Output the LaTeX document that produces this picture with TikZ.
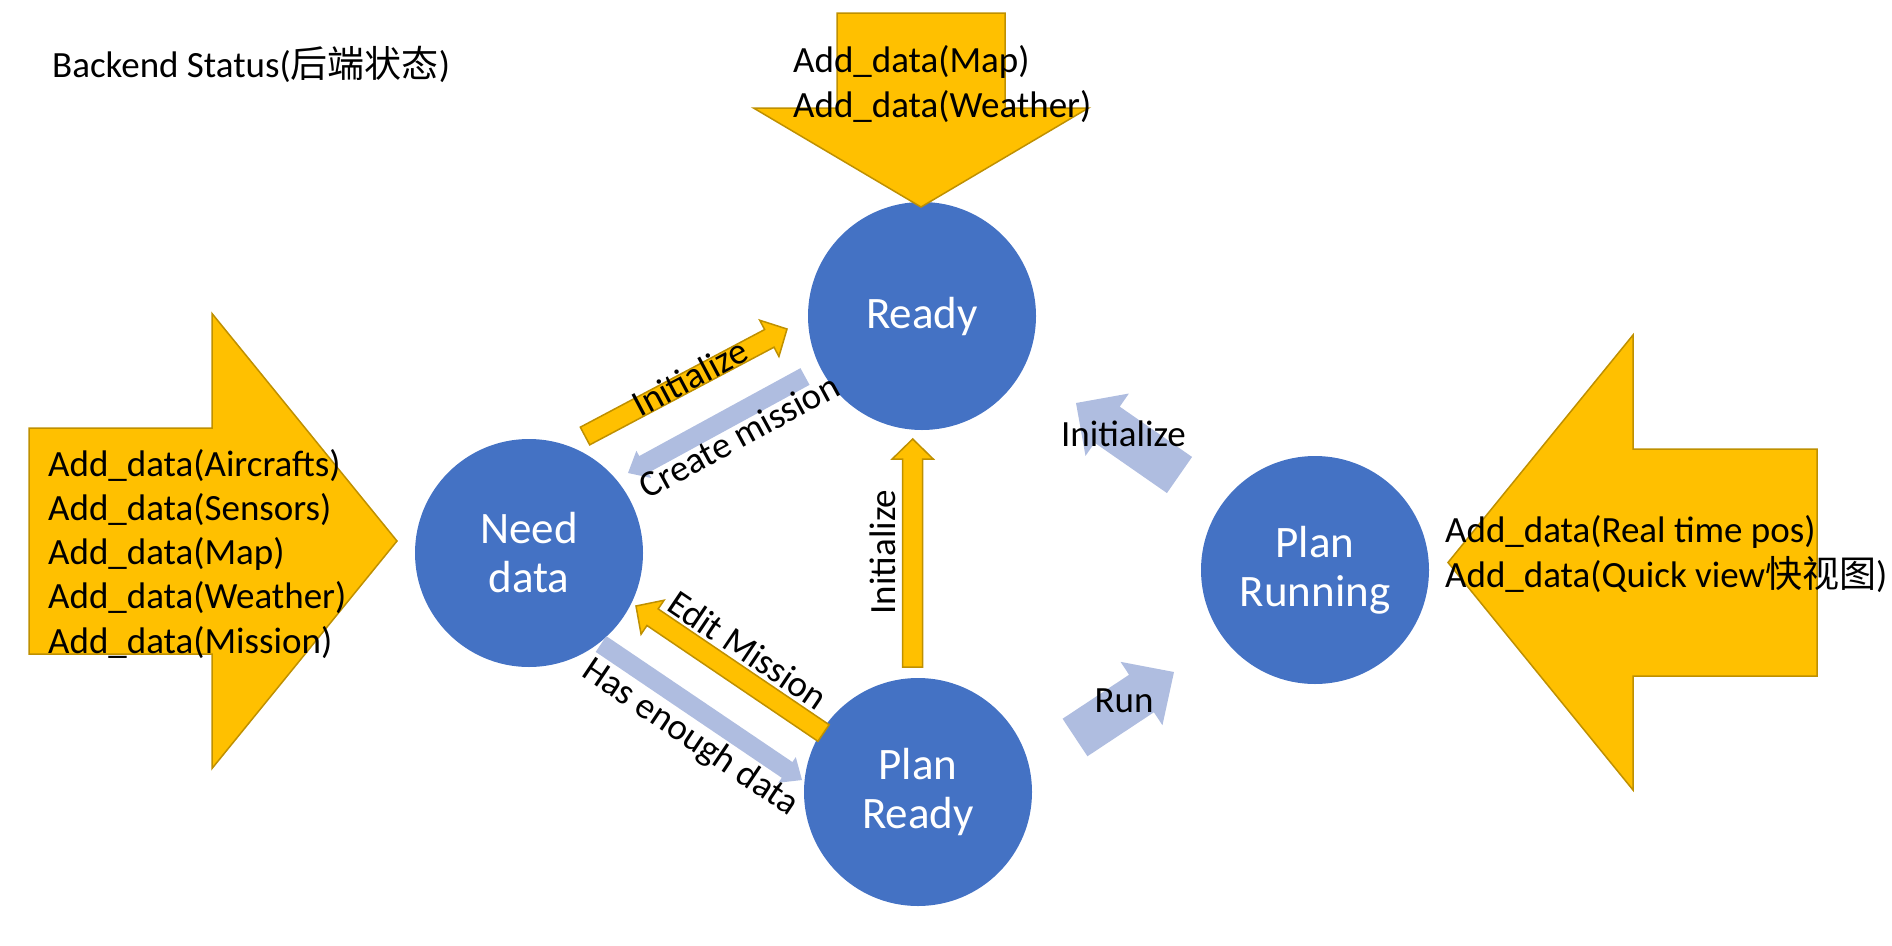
\documentclass[tikz,border=0pt]{standalone}
\usepackage{fontspec}
\setmainfont{Carlito}
\newfontfamily\cjk{Noto Sans CJK SC}
\usetikzlibrary{calc}
\definecolor{stateBlue}{HTML}{4472C4}
\definecolor{dataYellow}{HTML}{FFC000}
\definecolor{dataGold}{HTML}{BF9000}
\definecolor{moveBlue}{HTML}{AFBDE0}

% block arrow: style, tail, tip, shaft width, head width, head length
\newcommand{\blockarrow}[6]{%
  \coordinate (#2-b) at ($(#3)!#6!(#2)$);
  \path[#1] ($(#2)!#4/2!90:(#3)$) -- ($(#2-b)!#4/2!90:(#3)$)
    -- ($(#2-b)!#5/2!90:(#3)$) -- (#3) -- ($(#2-b)!#5/2!-90:(#3)$)
    -- ($(#2-b)!#4/2!-90:(#3)$) -- ($(#2)!#4/2!-90:(#3)$) -- cycle;
}

\begin{document}
\begin{tikzpicture}[
  x=1pt, y=1pt,
  state/.style={circle, fill=stateBlue, minimum size=228pt, inner sep=0pt,
    text=white, align=center, font=\fontsize{45}{49}\selectfont},
  feed/.style={fill=dataYellow, draw=dataGold, line width=1.5pt},
  move/.style={fill=moveBlue},
  lbl/.style={inner sep=0pt, font=\fontsize{37}{44}\selectfont},
]
  \useasboundingbox (0,0) rectangle (1892,-945);

  % Title
  \node[lbl, anchor=base west] (title)
    at (52,-77) {Backend Status({\cjk 后端状态})};

  % States
  \node[state] (need) at (529,-553) {Need\\data};
  \node[state] (ready) at (922,-316) {Ready};
  \node[state] (planready) at (918,-792) {Plan\\Ready};
  \node[state] (running) at (1315,-570) {Plan\\Running};

  % Transition ends
  \coordinate (ni-s) at (585,-436);    \coordinate (ni-e) at (787,-329);
  \coordinate (cm-s) at (805,-376.5);  \coordinate (cm-e) at (628,-473);
  \coordinate (em-s) at (823.5,-733);  \coordinate (em-e) at (636,-606);
  \coordinate (he-s) at (601,-644);    \coordinate (he-e) at (802,-780);
  \coordinate (pi-s) at (912.7,-667);  \coordinate (pi-e) at (912.7,-439);
  \coordinate (ri-s) at (1179.5,-475); \coordinate (ri-e) at (1076,-403);
  \coordinate (run-s) at (1075,-737.5); \coordinate (run-e) at (1174,-672);

  % Transitions
  \blockarrow{feed}{ni-s}{ni-e}{20pt}{41pt}{20pt}
  \blockarrow{move}{cm-s}{cm-e}{19pt}{31pt}{18pt}
  \blockarrow{feed}{em-s}{em-e}{20pt}{41pt}{20pt}
  \blockarrow{move}{he-s}{he-e}{19pt}{31pt}{18pt}
  \blockarrow{feed}{pi-s}{pi-e}{20pt}{41pt}{20pt}
  \blockarrow{move}{ri-s}{ri-e}{44pt}{76pt}{38pt}
  \blockarrow{move}{run-s}{run-e}{45pt}{76pt}{39pt}

  % Data feeds
  \coordinate (feedL-s) at (29,-541);    \coordinate (feedL-e) at (397,-541);
  \coordinate (feedT-s) at (921,-13);    \coordinate (feedT-e) at (921,-207);
  \coordinate (feedR-s) at (1817,-562.5); \coordinate (feedR-e) at (1448,-562.5);
  \blockarrow{feed}{feedL-s}{feedL-e}{226pt}{455pt}{185pt}
  \blockarrow{feed}{feedT-s}{feedT-e}{168pt}{335pt}{99pt}
  \blockarrow{feed}{feedR-s}{feedR-e}{227pt}{455pt}{185pt}

  % Transition labels
  \node[lbl, rotate=28] (ni) at (690,-377) {Initialize};
  \node[lbl, rotate=28.5] (cm) at (739,-436) {Create mission};
  \node[lbl, rotate=-34] (em) at (748,-650) {Edit Mission};
  \node[lbl, rotate=-34] (he) at (690,-738) {Has enough data};
  \node[lbl, rotate=90] (pi) at (883,-552) {Initialize};
  \node[lbl, anchor=base] (ri) at (1123.5,-446) {Initialize};
  \node[lbl, anchor=base] (run) at (1124,-712.7) {Run};

  % Feed texts
  \foreach \lab [count=\i from 0] in {Aircrafts,Sensors,Map,Weather,Mission}
    \node[lbl, anchor=base west] (feedL\i) at (48,-476-44.3*\i) {Add\_data(\lab)};
  \node[lbl, anchor=base west] (feedT0) at (793,-72) {Add\_data(Map)};
  \node[lbl, anchor=base west] (feedT1) at (793,-117) {Add\_data(Weather)};
  \node[lbl, anchor=base west] (feedR0) at (1445,-542) {Add\_data(Real time pos)};
  \node[lbl, anchor=base west] (feedR1) at (1445,-587) {Add\_data(Quick view{\cjk 快视图})};
\end{tikzpicture}
\end{document}
